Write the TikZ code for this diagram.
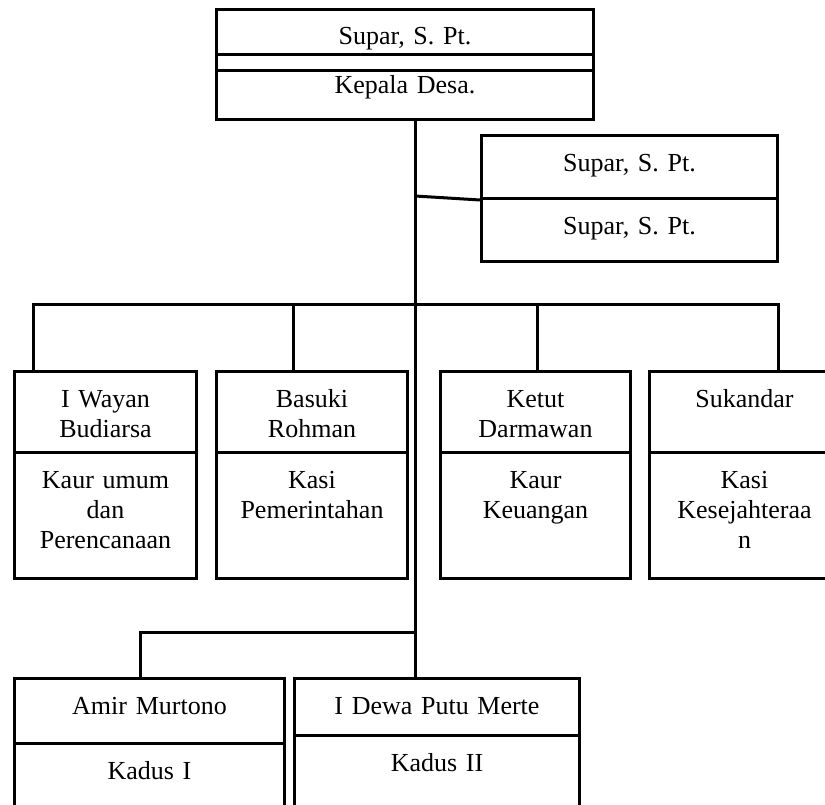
\documentclass[tikz,border=0pt]{standalone}
\usepackage{fontspec}
\setmainfont{Liberation Serif}
\usetikzlibrary{positioning, calc}
\frenchspacing

\begin{document}
\begin{tikzpicture}[x=1pt, y=-1pt, line width=3pt,
  orgbox/.style 2 args={draw, anchor=north west, inner sep=0pt, align=center,
    font=\fontsize{26}{30}\selectfont, text height=36pt,
    text width=#1, text depth=#2}]
  \path[use as bounding box, clip] (0,0) rectangle (825,805);

  % Kepala Desa
  \node[orgbox={377pt}{10pt}, text height=35pt] (kdsname) at (215,8) {Supar, S. Pt.};
  \node[orgbox={377pt}{0pt}, text height=16pt] (kdsband) at (215,53) {};
  \node[orgbox={377pt}{26pt}, text height=23pt] (kdsrole) at (215,69) {Kepala Desa.};

  % Sekretaris
  \node[orgbox={296pt}{27pt}] (sekname) at (480,134) {Supar, S. Pt.};
  \node[orgbox={296pt}{27pt}] (sekrole) at (480,197) {Supar, S. Pt.};

  % Kaur / Kasi
  \node[orgbox={182pt}{45pt}] (umumname) at (13,370) {I Wayan\\Budiarsa};
  \node[orgbox={182pt}{90pt}] (umumrole) at (13,451) {Kaur umum\\dan\\Perencanaan};
  \node[orgbox={191pt}{45pt}] (pemname) at (215,370) {Basuki\\Rohman};
  \node[orgbox={191pt}{90pt}] (pemrole) at (215,451) {Kasi\\Pemerintahan};
  \node[orgbox={190pt}{45pt}] (keuname) at (439,370) {Ketut\\Darmawan};
  \node[orgbox={190pt}{90pt}] (keurole) at (439,451) {Kaur\\Keuangan};
  \node[orgbox={190pt}{45pt}] (kesname) at (648,370) {Sukandar};
  \node[orgbox={190pt}{90pt}] (kesrole) at (648,451) {Kasi\\Kesejahteraa\\n};

  % Kadus
  \node[orgbox={270pt}{29pt}] (kd1name) at (13,677) {Amir Murtono};
  \node[orgbox={270pt}{54pt}] (kd1role) at (13,742) {Kadus I};
  \node[orgbox={285pt}{21pt}] (kd2name) at (293,677) {I Dewa Putu Merte};
  \node[orgbox={285pt}{59pt}] (kd2role) at (293,734) {Kadus II};

  % garis komando
  \coordinate (spine) at (415,0);
  \coordinate (bus) at (0,304);
  \coordinate (kdsbus) at (0,632);
  \coordinate (d1) at ([xshift=20pt]umumname.north west);
  \coordinate (d2) at ([xshift=78pt]pemname.north west);
  \coordinate (d3) at ([xshift=98pt]keuname.north west);
  \coordinate (d4) at ([xshift=130pt]kesname.north west);
  \coordinate (d5) at ([xshift=127pt]kd1name.north west);

  \draw (kdsrole.south -| spine) -- (kd2name.north -| spine);
  \draw ([yshift=4pt]spine |- sekname.south west) -- (sekname.south west);
  \draw (d1) |- (d4 |- bus) -- (d4);
  \draw (d2) -- (d2 |- bus);
  \draw (d3) -- (d3 |- bus);
  \draw (d5) |- (kdsbus -| spine);
\end{tikzpicture}
\end{document}
